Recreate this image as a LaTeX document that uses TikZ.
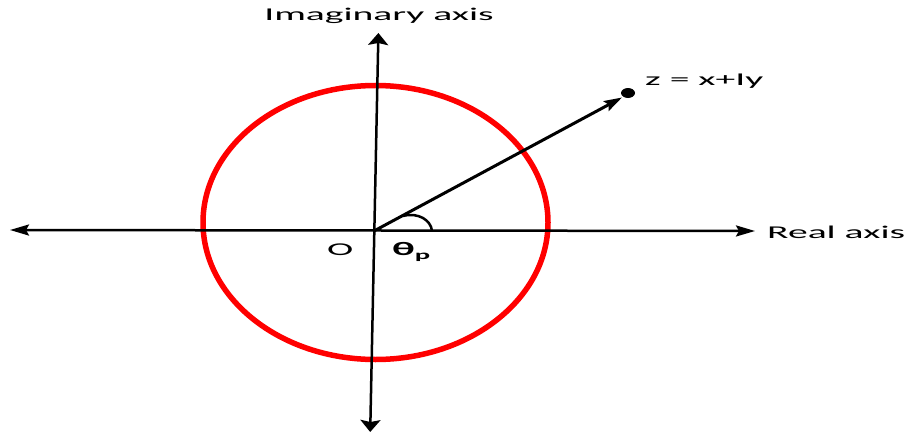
\documentclass[tikz,border=0pt]{standalone}
\usepackage{fontspec}
\setmainfont{Carlito}[FakeStretch=2.2]
\usetikzlibrary{arrows.meta}
\begin{document}
\begin{tikzpicture}[x=1pt,y=-1pt]
\tikzset{axis/.style={line width=2.5pt,color=black},
         hhead/.style={{Stealth[length=19pt,width=11pt,inset=3pt]}-{Stealth[length=19pt,width=11pt,inset=3pt]}},
         vhead/.style={{Stealth[length=12pt,width=20pt,inset=2pt]}-{Stealth[length=12pt,width=20pt,inset=2pt]}},
         unitcirc/.style={line width=5.5pt,color=red},
         lbl/.style={font=\fontsize{18}{21}\selectfont,inner sep=0pt}}
\useasboundingbox (0,0) rectangle (905,436);
% Points
\coordinate (O) at (374,231);
\coordinate (west) at (10,230);
\coordinate (east) at (755,231);
\coordinate (north) at (378.4,33);
\coordinate (south) at (370.2,432);
\coordinate (zdot) at (628,93);
\coordinate (ztip) at (622,97.5);
% Circle
\draw[unitcirc](375.5,222.5) ellipse [x radius=172.5, y radius=137];
% Axes
\draw[axis,hhead](west)--(east);
\draw[axis,vhead](south)--(north);
% Vector to z
\draw[line width=3pt,-{Stealth[length=18pt,width=11pt,inset=3pt]}](O)--(ztip);
\fill[black](zdot) ellipse [x radius=7, y radius=5];
% Angle arc
\draw[line width=2.5pt](403,216) .. controls (418,212) and (431,220) .. (432,231);
% Labels
\node[lbl,anchor=base] (imlbl) at (379,21) {Imaginary axis};
\node[lbl,anchor=base west] (relbl) at (767,238) {Real axis};
\node[lbl,anchor=base west] (zlbl) at (645,85) {z = x+Iy};
\node[lbl,anchor=base west] (olbl) at (327,255) {O};
\node[lbl,anchor=base west,font=\fontsize{19}{21}\selectfont\bfseries] (thlbl) at (392,255) {θ\raisebox{-4pt}{\fontsize{13}{13}\selectfont p}};
\end{tikzpicture}
\end{document}
